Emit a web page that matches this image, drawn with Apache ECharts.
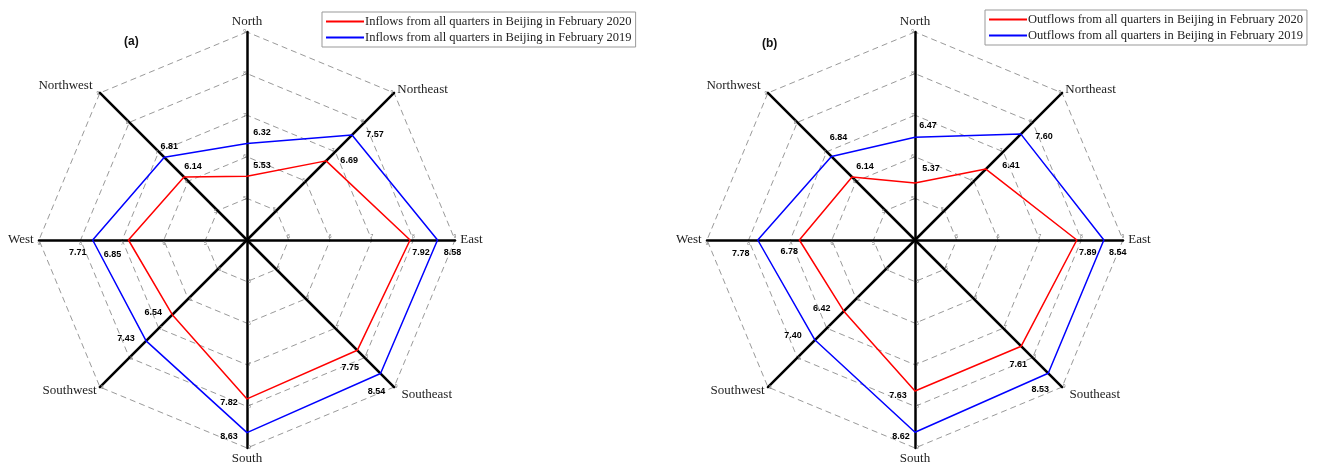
<!DOCTYPE html>
<html><head><meta charset="utf-8">
<script src="https://cdn.jsdelivr.net/npm/echarts@6/dist/echarts.min.js"></script>
<style>html,body{margin:0;padding:0;background:#fff}#c{width:1321px;height:466px}</style>
</head><body><div id="c"></div>
<script>
// ---- data ----
const directions = ['North','Northeast','East','Southeast','South','Southwest','West','Northwest'];
const inflow2020 = [5.53, 6.69, 7.92, 7.75, 7.82, 6.54, 6.85, 6.14];
const inflow2019 = [6.32, 7.57, 8.58, 8.54, 8.63, 7.43, 7.71, 6.81];
const outflow2020 = [5.37, 6.41, 7.89, 7.61, 7.63, 6.42, 6.78, 6.14];
const outflow2019 = [6.47, 7.60, 8.54, 8.53, 8.62, 7.40, 7.78, 6.84];
const axisMin = 4, axisMax = 9;
const names = [
  'Inflows from all quarters in Beijing in February 2020',
  'Inflows from all quarters in Beijing in February 2019',
  'Outflows from all quarters in Beijing in February 2020',
  'Outflows from all quarters in Beijing in February 2019'
];

// ---- style: value label offsets (px) per point ----
const offIn20 = [[15,-11],[23,0],[11,13],[-7,17],[-18,4],[-19,-2],[-16,15],[9,-11]];
const offIn19 = [[15,-11],[23,0],[15,13],[-4,18],[-18,4],[-20,-2],[-15,13],[5,-11]];
const offOut20 = [[16,-14],[25,-4],[11,13],[-3,18],[-17,5],[-22,-3],[-10,12],[13,-11]];
const offOut19 = [[13,-12],[23,2],[14,13],[-8,16],[-14,4],[-22,-4],[-17,14],[7,-19]];

const centers = [[247,240],[915,240]];
const R = 208;

// radar indicators go counter-clockwise from the top
const ccwOrder = [0,7,6,5,4,3,2,1];
const indicators = ccwOrder.map(i => ({name: directions[i], min: axisMin, max: axisMax}));

function radarCfg(c) {
  return {
    center: c, radius: R, startAngle: 90, splitNumber: 5, shape: 'polygon',
    indicator: indicators,
    nameGap: 4,
    axisName: {color: '#222', fontFamily: 'Liberation Serif', fontSize: 13},
    axisLine: {lineStyle: {color: '#000', width: 2.5}},
    splitLine: {lineStyle: {color: '#9a9a9a', width: 1, type: [6,4]}},
    splitArea: {show: false},
    axisTick: {show: false},
    axisLabel: {show: true, fontSize: 5, color: '#777', showMinLabel: false, margin: 1}
  };
}

function angleCfg(idx) {
  return {polarIndex: idx, type: 'category', data: directions, startAngle: 90, clockwise: true,
    boundaryGap: false, axisLine: {show: false}, axisTick: {show: false},
    axisLabel: {show: false}, splitLine: {show: false}, splitArea: {show: false}};
}
function radiusCfg(idx) {
  return {polarIndex: idx, type: 'value', min: axisMin, max: axisMax,
    axisLine: {show: false}, axisTick: {show: false}, axisLabel: {show: false},
    splitLine: {show: false}, splitArea: {show: false}};
}

// polygon drawn by the radar series
function radarSeries(name, vals, color, radarIndex) {
  return {
    type: 'radar', name: name, radarIndex: radarIndex, symbol: 'none',
    lineStyle: {color: color, width: 1.5}, itemStyle: {color: color},
    data: [{value: ccwOrder.map(i => vals[i]), name: name}],
    z: 4, silent: true
  };
}
// value labels placed through the polar scales
function labelSeries(vals, offs, polarIndex) {
  return {
    type: 'scatter', coordinateSystem: 'polar', polarIndex: polarIndex,
    data: directions.map((d, i) => ({value: [vals[i], d], label: {offset: offs[i]}})),
    symbol: 'circle', symbolSize: 0, itemStyle: {opacity: 1, color: 'transparent'},
    label: {show: true, position: 'inside', color: '#000', fontSize: 9, fontWeight: 'bold',
      fontFamily: 'Liberation Sans', formatter: p => p.value[0].toFixed(2)},
    z: 6, silent: true
  };
}

function legendCfg(left, top, data) {
  return {left: left, top: top, orient: 'vertical', data: data, icon: 'rect',
    itemWidth: 38, itemHeight: 2, itemGap: 3, padding: [3, 4, 3, 4],
    borderColor: '#999', borderWidth: 1, selectedMode: false,
    textStyle: {fontFamily: 'Liberation Serif', fontSize: 12.5, color: '#222', padding: [0,0,0,-4]}};
}

const chart = echarts.init(document.getElementById('c'));
chart.setOption({
  animation: false,
  backgroundColor: '#fff',
  title: [
    {text: '(a)', left: 119, top: 31, textStyle: {fontSize: 12, fontWeight: 'bold', fontFamily: 'Liberation Sans', color: '#111'}},
    {text: '(b)', left: 757, top: 33, textStyle: {fontSize: 12, fontWeight: 'bold', fontFamily: 'Liberation Sans', color: '#111'}}
  ],
  legend: [legendCfg(322, 12, [names[0], names[1]]), legendCfg(985, 10, [names[2], names[3]])],
  radar: [radarCfg(centers[0]), radarCfg(centers[1])],
  polar: [{center: centers[0], radius: R}, {center: centers[1], radius: R}],
  angleAxis: [angleCfg(0), angleCfg(1)],
  radiusAxis: [radiusCfg(0), radiusCfg(1)],
  series: [
    radarSeries(names[0], inflow2020, '#ff0000', 0),
    radarSeries(names[1], inflow2019, '#0000ff', 0),
    radarSeries(names[2], outflow2020, '#ff0000', 1),
    radarSeries(names[3], outflow2019, '#0000ff', 1),
    labelSeries(inflow2020, offIn20, 0),
    labelSeries(inflow2019, offIn19, 0),
    labelSeries(outflow2020, offOut20, 1),
    labelSeries(outflow2019, offOut19, 1)
  ]
});
</script></body></html>
